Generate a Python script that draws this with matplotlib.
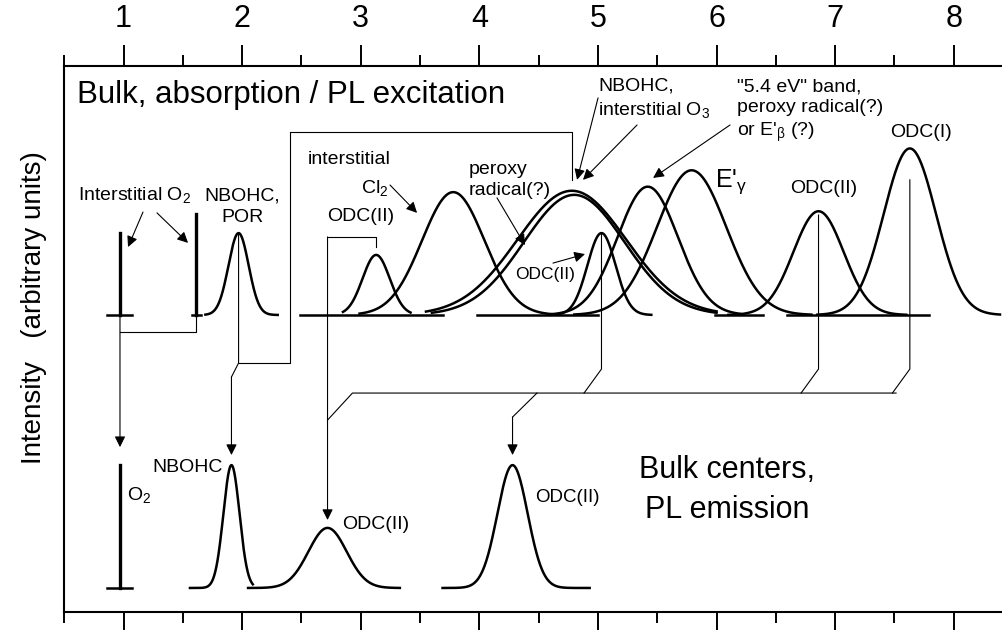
import numpy as np
import matplotlib
matplotlib.use("Agg")
import matplotlib.pyplot as plt
from matplotlib.ticker import MultipleLocator

plt.rcParams['font.family'] = ['Liberation Sans', 'DejaVu Sans']
plt.rcParams['mathtext.fontset'] = 'custom'
plt.rcParams['mathtext.rm'] = 'Liberation Sans'
plt.rcParams['mathtext.it'] = 'Liberation Sans:italic'
plt.rcParams['mathtext.bf'] = 'Liberation Sans:bold'

# upper trace: absorption / PL excitation bands (eV, arbitrary height)
abs_names = ["NBOHC", "ODC(II)", "Cl2", "NBOHC", "O3", "ODC(II)", "5.4 eV", "E'g", "ODC(II)", "ODC(I)"]
abs_center = [1.97, 3.13, 3.78, 4.78, 4.80, 5.03, 5.42, 5.79, 6.86, 7.63]
abs_height = [0.30, 0.22, 0.45, 0.455, 0.44, 0.30, 0.47, 0.53, 0.38, 0.61]
abs_fwhm = [0.20, 0.27, 0.62, 1.08, 1.00, 0.28, 0.60, 0.69, 0.50, 0.52]
abs_lo = [1.69, 2.85, 2.99, 3.55, 3.60, 4.60, 4.60, 4.80, 6.10, 6.85]
abs_hi = [2.30, 3.42, 4.65, 6.00, 6.00, 5.45, 6.20, 6.80, 7.60, 8.39]
o2_abs_center = [0.97, 1.61]
o2_abs_height = [0.30, 0.37]
abs_baseline = [(0.86, 1.07), (1.58, 1.65), (2.49, 3.69), (3.98, 5.00), (5.99, 6.39), (6.59, 7.79)]

# lower trace: PL emission bands
em_names = ["NBOHC", "ODC(II)", "ODC(II)"]
em_center = [1.91, 2.72, 4.28]
em_height = [0.45, 0.22, 0.45]
em_fwhm = [0.16, 0.38, 0.30]
em_lo = [1.56, 2.05, 3.69]
em_hi = [2.09, 3.33, 4.93]
o2_em_center = 0.97
o2_em_height = 0.45
em_baseline = [(0.86, 1.07)]

abs_base = 1.0
em_base = 0.0

LW = 1.8
THIN = 0.8


def band(ax, c, h, fwhm, lo, hi, base):
    s = fwhm / 2.3548
    x = np.linspace(lo, hi, 400)
    ax.plot(x, base + h * np.exp(-0.5 * ((x - c) / s) ** 2), color='k', lw=LW)


def path(ax, pts, arrow=False):
    xs = [p[0] for p in pts]
    ys = [p[1] for p in pts]
    if arrow:
        ax.plot(xs[:-1], ys[:-1], color='k', lw=THIN)
        ax.annotate('', xy=pts[-1], xytext=pts[-2],
                    arrowprops=dict(arrowstyle='-|>', color='k', lw=THIN,
                                    mutation_scale=16, shrinkA=0, shrinkB=0))
    else:
        ax.plot(xs, ys, color='k', lw=THIN)


def pointer(ax, start, tip):
    ax.annotate('', xy=tip, xytext=start,
                arrowprops=dict(arrowstyle='-|>', color='k', lw=THIN,
                                mutation_scale=16, shrinkA=0, shrinkB=0))


fig = plt.figure(figsize=(10.02, 6.3), dpi=100)
ax = fig.add_axes([64 / 1002, 18 / 630, 1 - 64 / 1002, (612 - 66) / 630])
ax.set_xlim(0.498, 8.407)
ax.set_ylim(-0.088, 1.912)

# bands
for c, h, w, lo, hi in zip(abs_center, abs_height, abs_fwhm, abs_lo, abs_hi):
    band(ax, c, h, w, lo, hi, abs_base)
for c, h, w, lo, hi in zip(em_center, em_height, em_fwhm, em_lo, em_hi):
    band(ax, c, h, w, lo, hi, em_base)
for lo, hi in abs_baseline:
    ax.plot([lo, hi], [abs_base, abs_base], color='k', lw=LW)
for lo, hi in em_baseline:
    ax.plot([lo, hi], [em_base, em_base], color='k', lw=LW)
for c, h in zip(o2_abs_center, o2_abs_height):
    ax.plot([c, c], [abs_base, abs_base + h], color='k', lw=2.4)
ax.plot([o2_em_center, o2_em_center], [em_base, em_base + o2_em_height], color='k', lw=2.4)

# connectors absorption -> emission
o2a, o2b = o2_abs_center
path(ax, [(o2b, abs_base), (o2b, 0.938), (o2a, 0.938)])
path(ax, [(o2a, abs_base), (o2a, 0.516)], arrow=True)

nb_a, nb_uv, nb_e = abs_center[0], abs_center[3], em_center[0]
path(ax, [(nb_uv, 1.495), (nb_uv, 1.670), (2.404, 1.670), (2.404, 0.824), (nb_a, 0.824)])
path(ax, [(nb_a, abs_base + abs_height[0]), (nb_a, 0.824), (nb_e, 0.773), (nb_e, 0.487)], arrow=True)

odc_a, odc_e1, odc_e2 = abs_center[1], em_center[1], em_center[2]
path(ax, [(odc_a, 1.25), (odc_a, 1.286), (odc_e1, 1.286), (odc_e1, 0.249)], arrow=True)
path(ax, [(odc_e1, 0.615), (odc_e1 + 0.21, 0.714), (abs_center[9] - 0.116, 0.714)])
path(ax, [(odc_e2 + 0.206, 0.714), (odc_e2, 0.626), (odc_e2, 0.487)], arrow=True)
for i, top in [(5, abs_base + abs_height[5]), (8, 1.366), (9, 1.495)]:
    c = abs_center[i]
    path(ax, [(c - 0.147, 0.714), (c, 0.802), (c, top)])

# labels, upper trace
ax.text(0.608, 1.806, "Bulk, absorption / PL excitation", fontsize=22.5, va='center')
ax.text(0.617, 1.44, r"Interstitial O$_2$", fontsize=14, va='center')
pointer(ax, (1.164, 1.377), (1.038, 1.249))
pointer(ax, (1.282, 1.374), (1.544, 1.264))
ax.text(2.0, 1.398, "NBOHC,\nPOR", fontsize=14, ha='center', va='center',
        multialignment='center', linespacing=1.35)
ax.text(2.556, 1.568, "interstitial", fontsize=14, va='center')
ax.text(3.0, 1.465, r"Cl$_2$", fontsize=14, va='center')
pointer(ax, (3.247, 1.476), (3.475, 1.374))
ax.text(2.716, 1.359, "ODC(II)", fontsize=14, va='center')
ax.text(3.913, 1.495, "peroxy\nradical(?)", fontsize=14, va='center', linespacing=1.35)
pointer(ax, (4.149, 1.429), (4.385, 1.256))
ax.text(5.0, 1.793, "NBOHC,\ninterstitial O$_3$", fontsize=14, va='center', linespacing=1.35)
pointer(ax, (5.001, 1.795), (4.824, 1.495))
pointer(ax, (5.33, 1.696), (4.874, 1.495))
ax.text(6.173, 1.747, "\"5.4 eV\" band,\nperoxy radical(?)\nor E'$_{\\mathrm{\\beta}}$ (?)", fontsize=14,
        va='center', linespacing=1.3)
pointer(ax, (6.114, 1.696), (5.465, 1.502))
ax.text(5.987, 1.49, "E'$_{\\mathrm{\\gamma}}$", fontsize=18, va='center')
ax.text(6.62, 1.465, "ODC(II)", fontsize=14, va='center')
ax.text(7.463, 1.667, "ODC(I)", fontsize=14, va='center')
ax.text(4.30, 1.147, "ODC(II)", fontsize=12.5, va='center')
pointer(ax, (4.621, 1.19), (4.891, 1.223))

# labels, lower trace
ax.text(1.03, 0.34, r"O$_2$", fontsize=14, va='center')
ax.text(1.839, 0.443, "NBOHC", fontsize=14, va='center', ha='right')
ax.text(2.842, 0.231, "ODC(II)", fontsize=14, va='center')
ax.text(4.47, 0.333, "ODC(II)", fontsize=13.5, va='center')
ax.text(6.09, 0.359, "Bulk centers,\nPL emission", fontsize=22, ha='center', va='center',
        multialignment='center', linespacing=1.42)

# axes frame / ticks
ax.spines['right'].set_visible(False)
for s in ['left', 'top', 'bottom']:
    ax.spines[s].set_linewidth(1.5)
ax.xaxis.set_major_locator(MultipleLocator(1))
ax.xaxis.set_minor_locator(MultipleLocator(0.5))
ax.tick_params(axis='x', which='both', direction='out', top=True, bottom=True,
               labeltop=True, labelbottom=False, width=1.4, labelsize=22, pad=8)
ax.tick_params(axis='x', which='major', length=15)
ax.tick_params(axis='x', which='minor', length=8)
ax.set_yticks([])

fig.text(34 / 1002, 1 - 308 / 630, "Intensity   (arbitrary units)", rotation=90,
         fontsize=20, ha='center', va='center')

fig.savefig("out.png", dpi=100)
